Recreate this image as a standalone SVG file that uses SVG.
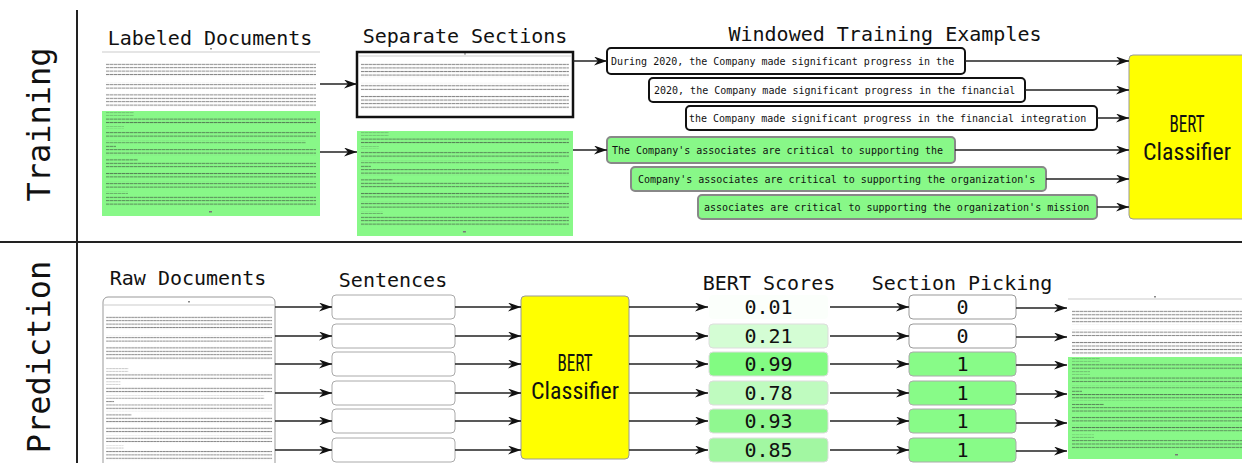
<svg xmlns="http://www.w3.org/2000/svg" xmlns:xlink="http://www.w3.org/1999/xlink" width="1242" height="463" viewBox="0 0 1242 463">
<style>
.mono{font-family:"DejaVu Sans Mono","Liberation Mono",monospace;fill:#111}
.title{font-size:20px;text-anchor:middle}
.side{font-size:32px;text-anchor:middle}
.win{font-size:10px}
.num{font-size:20px;text-anchor:middle}
.bert{font-family:"Roboto Condensed","Liberation Sans Narrow","DejaVu Sans Condensed",Roboto,sans-serif;font-size:24px;text-anchor:middle;fill:#111}
.wbox{fill:#fff;stroke:#111;stroke-width:2}
.gbox{fill:#88f888;stroke:#888;stroke-width:2}
.sent{fill:#fff;stroke:#aaa;stroke-width:1}
.pick0{fill:#fff;stroke:#999;stroke-width:1}
.pick1{fill:#88fb88;stroke:#aaa;stroke-width:1}
.score{stroke:#ddd;stroke-width:1}
.yel{fill:#ffff00;stroke:#999;stroke-width:1}
.green{fill:#88f888}
.hdr{stroke:#ddd;stroke-width:1.5}
.conn line{stroke:#222;stroke-width:1.5;marker-end:url(#ah)}
.sep{stroke:#222;stroke-width:2}
</style>
<defs>
<pattern id="tl" width="4" height="3.4" patternUnits="userSpaceOnUse"><rect x="0" y="0.8" width="3.2" height="1" fill="#333" fill-opacity="0.6"/><rect x="3.2" y="0.8" width="0.8" height="1" fill="#333" fill-opacity="0.3"/></pattern>
<marker id="ah" markerWidth="14" markerHeight="10" refX="13" refY="4.5" orient="auto" markerUnits="userSpaceOnUse"><path d="M0,0 L13,4.5 L0,9 L4,4.5 Z" fill="#111"/></marker>
<g id="topTxt" fill="url(#tl)">
<rect x="4" y="0" width="210" height="14"/>
<rect x="4" y="19" width="210" height="7"/>
<rect x="4" y="30" width="210" height="14"/>
</g>
<g id="botTxt" fill="url(#tl)">
<rect x="4" y="1.5" width="28" height="3"/>
<rect x="4" y="6" width="210" height="7"/>
<rect x="4" y="15" width="18" height="3"/>
<rect x="4" y="20" width="210" height="7"/>
<rect x="4" y="29" width="200" height="3.4"/>
<rect x="4" y="34" width="10" height="3"/>
<rect x="4" y="38" width="210" height="7"/>
<rect x="4" y="47" width="32" height="3"/>
<rect x="4" y="51" width="210" height="7"/>
<rect x="4" y="61" width="210" height="7"/>
<rect x="4" y="70" width="210" height="7"/>
<rect x="4" y="80" width="22" height="3"/>
<rect x="4" y="85" width="210" height="10"/>
<rect x="107" y="100" width="3" height="1.5" fill="#777"/>
</g>
</defs>
<rect width="1242" height="463" fill="#fff"/>

<g id="frame">
<line class="sep" x1="77" y1="10" x2="77" y2="463"/>
<line class="sep" x1="0" y1="242" x2="1242" y2="242"/>
<text class="mono side" transform="translate(50,124.5) rotate(-90)">Training</text>
<text class="mono side" transform="translate(50,357) rotate(-90)">Prediction</text>
</g>

<g id="labeled-documents">
<text class="mono title" x="210" y="45">Labeled Documents</text>
<line class="hdr" x1="102" y1="52" x2="320" y2="52"/>
<rect x="210" y="48" width="2" height="1.5" fill="#888"/>
<use xlink:href="#topTxt" transform="translate(102,63)"/>
<rect class="green" x="102" y="111" width="218" height="105"/>
<use xlink:href="#botTxt" transform="translate(102,111)"/>
</g>

<g id="separate-sections">
<text class="mono title" x="465" y="43">Separate Sections</text>
<rect x="357" y="52" width="216" height="65" fill="#fff" stroke="#111" stroke-width="2.5"/>
<line class="hdr" x1="359" y1="56" x2="571" y2="56"/>
<rect x="464" y="53" width="2" height="1.5" fill="#888"/>
<use xlink:href="#topTxt" transform="translate(357,63) scale(0.99,1.05)"/>
<rect class="green" x="357" y="131" width="216" height="105"/>
<use xlink:href="#botTxt" transform="translate(357,131) scale(0.99,1)"/>
</g>

<g id="windowed-examples">
<text class="mono title" x="885" y="41">Windowed Training Examples</text>
<g id="win1"><rect class="wbox" x="607" y="48" width="358" height="26" rx="4"/><text class="mono win" x="611" y="64.5">During 2020, the Company made significant progress in the</text></g>
<g id="win2"><rect class="wbox" x="649" y="78" width="376" height="24" rx="4"/><text class="mono win" x="654" y="93.5">2020, the Company made significant progress in the financial</text></g>
<g id="win3"><rect class="wbox" x="686" y="106" width="411" height="24" rx="4"/><text class="mono win" x="689" y="121.5">the Company made significant progress in the financial integration</text></g>
<g id="win4"><rect class="gbox" x="607" y="137" width="348" height="26" rx="4"/><text class="mono win" x="612" y="153.5">The Company's associates are critical to supporting the</text></g>
<g id="win5"><rect class="gbox" x="631" y="167" width="415" height="24" rx="4"/><text class="mono win" x="638" y="182.5">Company's associates are critical to supporting the organization's</text></g>
<g id="win6"><rect class="gbox" x="698" y="195" width="399" height="24" rx="4"/><text class="mono win" x="704" y="210.5">associates are critical to supporting the organization's mission</text></g>
</g>

<g id="bert-train">
<rect class="yel" x="1129" y="55" width="125" height="164" rx="4"/>
<text class="bert" x="1187" y="132" textLength="35" lengthAdjust="spacingAndGlyphs">BERT</text>
<text class="bert" x="1187" y="160" textLength="88" lengthAdjust="spacingAndGlyphs">Classifier</text>
</g>

<g id="raw-documents">
<text class="mono title" x="188" y="285">Raw Documents</text>
<rect x="103" y="297" width="172" height="200" rx="5" fill="#fff" stroke="#999" stroke-width="1"/>
<line class="hdr" x1="104" y1="305" x2="274" y2="305"/>
<rect x="188" y="301" width="2" height="1.5" fill="#888"/>
<use xlink:href="#topTxt" transform="translate(103,316) scale(0.79,1)"/>
<use xlink:href="#botTxt" transform="translate(103,367) scale(0.79,0.98)"/>
</g>

<g id="sentences">
<text class="mono title" x="393" y="287">Sentences</text>
<rect class="sent" x="332" y="295" width="123" height="24" rx="4"/>
<rect class="sent" x="332" y="324" width="123" height="24" rx="4"/>
<rect class="sent" x="332" y="352" width="123" height="24" rx="4"/>
<rect class="sent" x="332" y="381" width="123" height="24" rx="4"/>
<rect class="sent" x="332" y="409" width="123" height="24" rx="4"/>
<rect class="sent" x="332" y="438" width="123" height="24" rx="4"/>
</g>

<g id="bert-predict">
<rect class="yel" x="521" y="296" width="108" height="163" rx="4"/>
<text class="bert" x="575" y="371" textLength="35" lengthAdjust="spacingAndGlyphs">BERT</text>
<text class="bert" x="575" y="399" textLength="88" lengthAdjust="spacingAndGlyphs">Classifier</text>
</g>

<g id="bert-scores">
<text class="mono title" x="769" y="290">BERT Scores</text>
<rect x="709" y="295" width="119" height="24" rx="4" fill="#fbfffb"/>
<rect class="score" x="709" y="324" width="119" height="24" rx="4" fill="#d4fdd4"/>
<rect class="score" x="709" y="352" width="119" height="24" rx="4" fill="#82fb82"/>
<rect class="score" x="709" y="381" width="119" height="24" rx="4" fill="#bffbbf"/>
<rect class="score" x="709" y="409" width="119" height="24" rx="4" fill="#90f890"/>
<rect class="score" x="709" y="438" width="119" height="24" rx="4" fill="#a2f7a2"/>
<text class="mono num" x="768.5" y="314">0.01</text>
<text class="mono num" x="768.5" y="343">0.21</text>
<text class="mono num" x="768.5" y="371">0.99</text>
<text class="mono num" x="768.5" y="400">0.78</text>
<text class="mono num" x="768.5" y="428">0.93</text>
<text class="mono num" x="768.5" y="457">0.85</text>
</g>

<g id="section-picking">
<text class="mono title" x="962" y="290">Section Picking</text>
<rect class="pick0" x="909" y="295" width="107" height="24" rx="4"/>
<rect class="pick0" x="909" y="324" width="107" height="24" rx="4"/>
<rect class="pick1" x="909" y="352" width="107" height="24" rx="4"/>
<rect class="pick1" x="909" y="381" width="107" height="24" rx="4"/>
<rect class="pick1" x="909" y="409" width="107" height="24" rx="4"/>
<rect class="pick1" x="909" y="438" width="107" height="24" rx="4"/>
<text class="mono num" x="962.5" y="314">0</text>
<text class="mono num" x="962.5" y="343">0</text>
<text class="mono num" x="962.5" y="371">1</text>
<text class="mono num" x="962.5" y="400">1</text>
<text class="mono num" x="962.5" y="428">1</text>
<text class="mono num" x="962.5" y="457">1</text>
</g>

<g id="output-document">
<line class="hdr" x1="1068" y1="299" x2="1242" y2="299"/>
<rect x="1154" y="296" width="2" height="1.5" fill="#888"/>
<use xlink:href="#topTxt" transform="translate(1068,310) scale(1,1.02)"/>
<rect class="green" x="1068" y="357" width="180" height="102"/>
<use xlink:href="#botTxt" transform="translate(1068,357) scale(1,0.97)"/>
</g>

<g id="connectors" class="conn">
<line x1="320" y1="84" x2="357" y2="84"/>
<line x1="320" y1="152" x2="357" y2="152"/>
<line x1="573" y1="61" x2="607" y2="61"/>
<line x1="573" y1="150" x2="607" y2="150"/>
<line x1="965" y1="61" x2="1129" y2="61"/>
<line x1="1025" y1="90" x2="1129" y2="90"/>
<line x1="1097" y1="118" x2="1129" y2="118"/>
<line x1="955" y1="150" x2="1129" y2="150"/>
<line x1="1046" y1="179" x2="1129" y2="179"/>
<line x1="1097" y1="207" x2="1129" y2="207"/>
<line x1="275" y1="307" x2="332" y2="307"/>
<line x1="275" y1="336" x2="332" y2="336"/>
<line x1="275" y1="364" x2="332" y2="364"/>
<line x1="275" y1="393" x2="332" y2="393"/>
<line x1="275" y1="421" x2="332" y2="421"/>
<line x1="275" y1="450" x2="332" y2="450"/>
<line x1="455" y1="307" x2="521" y2="307"/>
<line x1="455" y1="336" x2="521" y2="336"/>
<line x1="455" y1="364" x2="521" y2="364"/>
<line x1="455" y1="393" x2="521" y2="393"/>
<line x1="455" y1="421" x2="521" y2="421"/>
<line x1="455" y1="450" x2="521" y2="450"/>
<line x1="629" y1="307" x2="708" y2="307"/>
<line x1="629" y1="336" x2="708" y2="336"/>
<line x1="629" y1="364" x2="708" y2="364"/>
<line x1="629" y1="393" x2="708" y2="393"/>
<line x1="629" y1="421" x2="708" y2="421"/>
<line x1="629" y1="450" x2="708" y2="450"/>
<line x1="830" y1="307" x2="909" y2="307"/>
<line x1="830" y1="336" x2="909" y2="336"/>
<line x1="830" y1="364" x2="909" y2="364"/>
<line x1="830" y1="393" x2="909" y2="393"/>
<line x1="830" y1="421" x2="909" y2="421"/>
<line x1="830" y1="450" x2="909" y2="450"/>
<line x1="1016" y1="308" x2="1067" y2="308"/>
<line x1="1016" y1="337" x2="1067" y2="337"/>
<line x1="1016" y1="365" x2="1067" y2="365"/>
<line x1="1016" y1="394" x2="1067" y2="394"/>
<line x1="1016" y1="423" x2="1067" y2="423"/>
<line x1="1016" y1="451" x2="1067" y2="451"/>
</g>
</svg>
